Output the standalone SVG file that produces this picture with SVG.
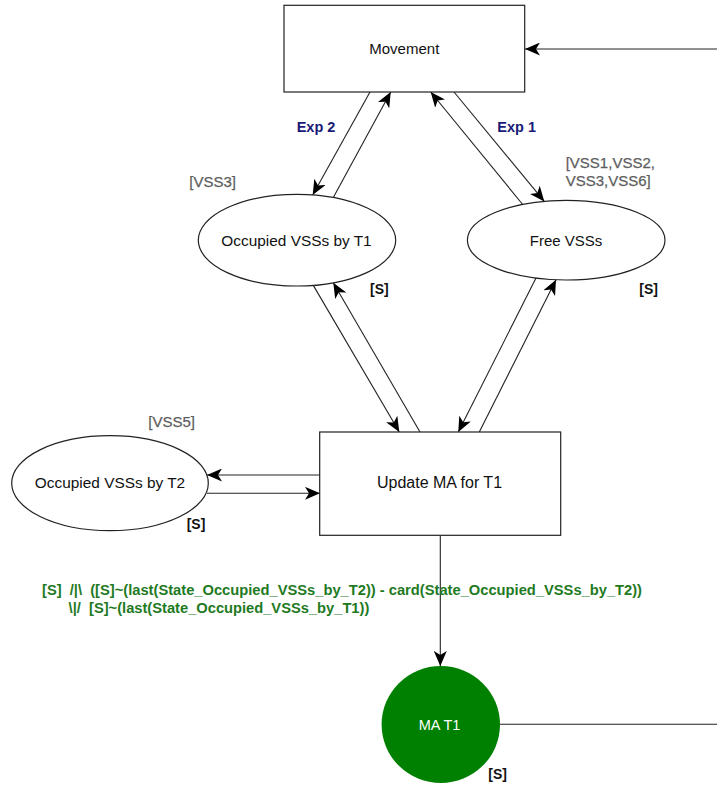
<svg xmlns="http://www.w3.org/2000/svg" width="717" height="787" viewBox="0 0 717 787">
<style>
  .node { fill: #ffffff; stroke: #222222; stroke-width: 1.2; }
  .lbl { font-family: "Liberation Sans", Arial, sans-serif; font-size: 15px; fill: #111111; text-anchor: middle; }
  .conn { fill: none; stroke: #222222; stroke-width: 1.1; }
  .exp { font-family: "Liberation Sans", Arial, sans-serif; font-size: 14.5px; font-weight: bold; fill: #1a1a78; text-anchor: middle; }
  .vss { font-family: "Liberation Sans", Arial, sans-serif; font-size: 15px; fill: #5e5e5e; stroke: #5e5e5e; stroke-width: 0.25; }
  .s { font-family: "Liberation Sans", Arial, sans-serif; font-size: 14px; font-weight: bold; fill: #111111; }
  .guard { font-family: "Liberation Sans", Arial, sans-serif; font-size: 14px; font-weight: bold; fill: #1f7a1f; }
</style>
<defs>
  <marker id="arr" markerUnits="userSpaceOnUse" markerWidth="16" markerHeight="13" viewBox="0 0 16 13" refX="15" refY="6.5" orient="auto">
    <path d="M0,0 L15,6.5 L0,13 L4,6.5 Z" fill="#000000"/>
  </marker>
</defs>
<rect width="717" height="787" fill="#ffffff"/>

<g id="connectors">
  <line class="conn" x1="370" y1="92" x2="312.7" y2="195" marker-end="url(#arr)"/>
  <line class="conn" x1="333.3" y1="197.6" x2="390.7" y2="92" marker-end="url(#arr)"/>
  <line class="conn" x1="522.7" y1="204.5" x2="430.7" y2="92" marker-end="url(#arr)"/>
  <line class="conn" x1="454" y1="92" x2="544.3" y2="201.4" marker-end="url(#arr)"/>
  <line class="conn" x1="313.3" y1="285.4" x2="399.3" y2="432" marker-end="url(#arr)"/>
  <line class="conn" x1="420" y1="432" x2="333.3" y2="282.8" marker-end="url(#arr)"/>
  <line class="conn" x1="536" y1="278.1" x2="458.3" y2="432" marker-end="url(#arr)"/>
  <line class="conn" x1="479.3" y1="432" x2="556" y2="279.8" marker-end="url(#arr)"/>
  <line class="conn" x1="320" y1="475" x2="207" y2="475" marker-end="url(#arr)"/>
  <line class="conn" x1="207" y1="493.3" x2="320" y2="493.3" marker-end="url(#arr)"/>
  <line class="conn" x1="440.3" y1="535.3" x2="440.3" y2="666" marker-end="url(#arr)"/>
  <path class="conn" d="M500,724.3 L720,724.3 L720,49 L525,49" marker-end="url(#arr)"/>
</g>

<g id="node-movement">
  <rect class="node" x="284" y="5.3" width="240.7" height="86.7"/>
  <text class="lbl" x="404.3" y="54">Movement</text>
</g>

<g id="node-occupied-t1">
  <ellipse class="node" cx="297" cy="240.2" rx="98.7" ry="45.8"/>
  <text class="lbl" x="296.5" y="245.5" style="font-size:15.4px">Occupied VSSs by T1</text>
</g>

<g id="node-free">
  <ellipse class="node" cx="566.2" cy="240.2" rx="98.8" ry="39.8"/>
  <text class="lbl" x="566" y="245.5">Free VSSs</text>
</g>

<g id="node-update">
  <rect class="node" x="319.7" y="432" width="241" height="103.3"/>
  <text class="lbl" x="439.5" y="488.3" style="font-size:16px">Update MA for T1</text>
</g>

<g id="node-occupied-t2">
  <ellipse class="node" cx="110" cy="483.2" rx="98.3" ry="47.5"/>
  <text class="lbl" x="110" y="488.3" style="font-size:15.4px">Occupied VSSs by T2</text>
</g>

<g id="node-ma-t1">
  <ellipse cx="440.8" cy="724.5" rx="59.2" ry="58.5" fill="#008000"/>
  <text class="lbl" x="439.5" y="730" style="font-size:14.5px;fill:#ffffff">MA T1</text>
</g>

<g id="labels">
  <text class="exp" x="316" y="132.3">Exp 2</text>
  <text class="exp" x="516.7" y="132.3">Exp 1</text>
  <text class="vss" x="565.7" y="168.3">[VSS1,VSS2,</text>
  <text class="vss" x="565.7" y="185.7">VSS3,VSS6]</text>
  <text class="vss" x="189.3" y="187.3">[VSS3]</text>
  <text class="vss" x="148.3" y="426.5">[VSS5]</text>
  <text class="s" x="370" y="294">[S]</text>
  <text class="s" x="639.3" y="294">[S]</text>
  <text class="s" x="186.7" y="529">[S]</text>
  <text class="s" x="488.3" y="779">[S]</text>
  <text class="guard" x="42" y="595" textLength="600" lengthAdjust="spacingAndGlyphs" xml:space="preserve">[S]  /|\  ([S]~(last(State_Occupied_VSSs_by_T2)) - card(State_Occupied_VSSs_by_T2))</text>
  <text class="guard" x="68.6" y="613" textLength="300.7" lengthAdjust="spacingAndGlyphs" xml:space="preserve">\|/  [S]~(last(State_Occupied_VSSs_by_T1))</text>
</g>
</svg>
